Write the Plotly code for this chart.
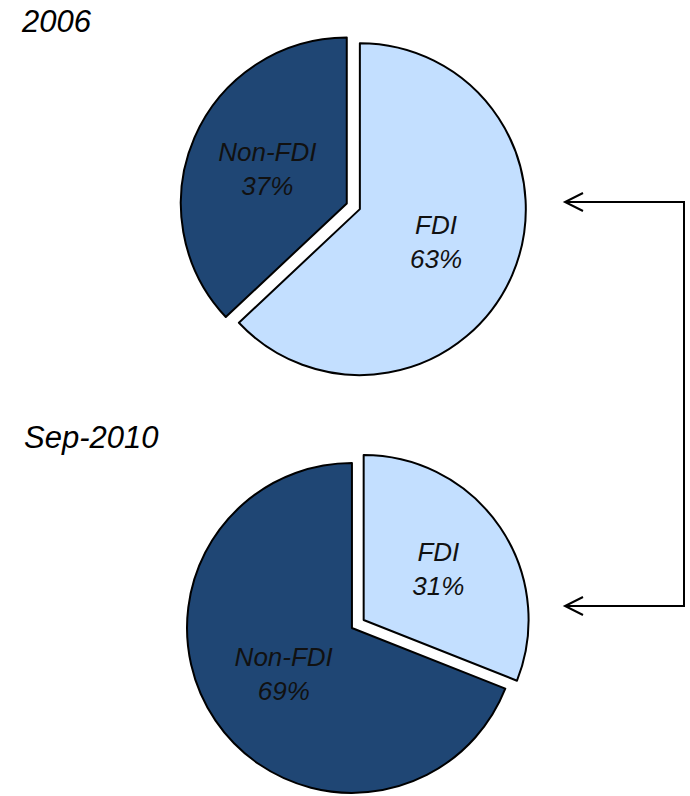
import plotly.graph_objects as go

W, H = 690, 796

labels = ["FDI", "Non-FDI"]
values_2006 = [63, 37]
values_2010 = [31, 69]
titles = ["2006", "Sep-2010"]

dark = "#1F4674"
light = "#C3DFFF"
colors = [light, dark]
pull = [0.043, 0.043]

def px_x(x):
    return x / W

def px_y(y):
    return 1 - y / H

fig = go.Figure()

common = dict(
    labels=labels,
    sort=False,
    direction="clockwise",
    rotation=0,
    pull=pull,
    marker=dict(colors=colors, line=dict(color="black", width=2)),
    texttemplate="%{label}<br>%{value}%",
    textposition="inside",
    insidetextorientation="horizontal",
    textfont=dict(family="Arial, Liberation Sans, sans-serif", size=26, color="#111111", style="italic"),
    hoverinfo="skip",
    showlegend=False,
)

fig.add_trace(go.Pie(values=values_2006,
                     domain=dict(x=[0.2612, 0.7629], y=[0.5234, 0.9583]),
                     **common))
fig.add_trace(go.Pie(values=values_2010,
                     domain=dict(x=[0.2677, 0.7694], y=[0.0, 0.4322]),
                     **common))

title_pos = [(19, 22), (22, 437)]
for t, (x, y) in zip(titles, title_pos):
    fig.add_annotation(text=t, x=px_x(x), y=px_y(y), xref="paper", yref="paper",
                       xanchor="left", yanchor="middle", showarrow=False,
                       font=dict(family="Arial, Liberation Sans, sans-serif", size=31,
                                 color="black", style="italic"))

# connector bracket with open arrowheads
xr, xt, yt, yb = 684, 565, 202, 606
line = dict(color="black", width=2)
fig.add_shape(type="path", xref="paper", yref="paper",
              path=f"M {px_x(xt)} {px_y(yt)} L {px_x(xr)} {px_y(yt)} L {px_x(xr)} {px_y(yb)} L {px_x(xt)} {px_y(yb)}",
              line=line)
for yy in (yt, yb):
    fig.add_shape(type="path", xref="paper", yref="paper",
                  path=f"M {px_x(xt+18)} {px_y(yy-9)} L {px_x(xt)} {px_y(yy)} L {px_x(xt+18)} {px_y(yy+9)}",
                  line=line)

fig.update_layout(width=W, height=H, margin=dict(l=0, r=0, t=0, b=0),
                  paper_bgcolor="white", plot_bgcolor="white", showlegend=False)

fig.write_html("out.html", config={"displayModeBar": False},
               post_script="document.body.style.margin='0';document.body.style.overflow='hidden';")
